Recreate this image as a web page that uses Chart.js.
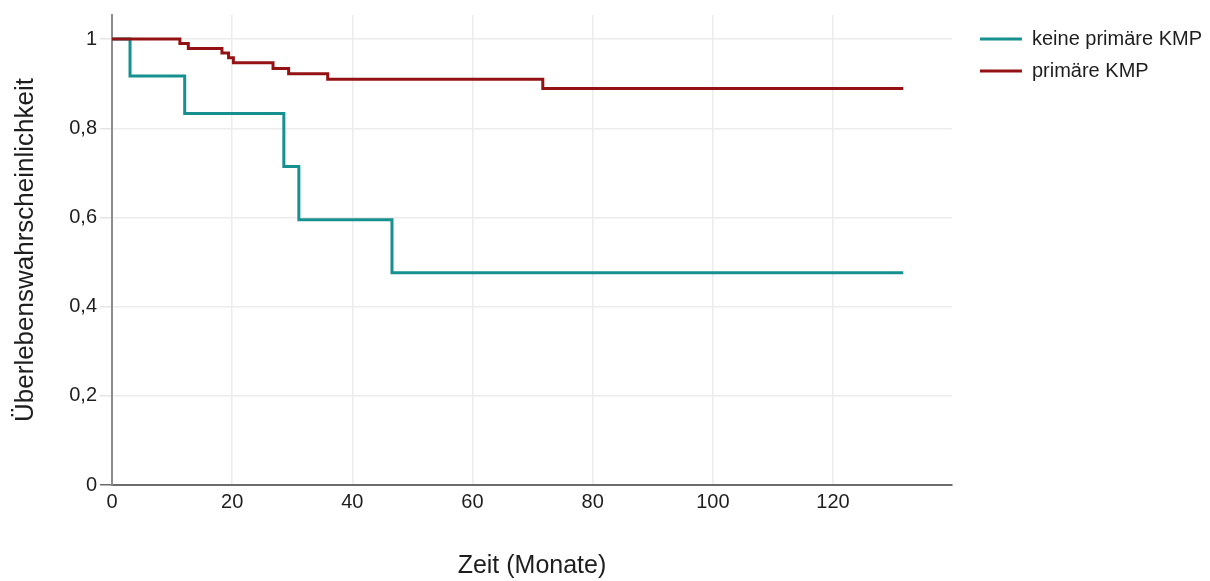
<!DOCTYPE html>
<html>
<head>
<meta charset="utf-8">
<title>Überlebenswahrscheinlichkeit</title>
<script src="https://cdn.jsdelivr.net/npm/chart.js@4"></script>
<style>
  html, body { margin: 0; padding: 0; background: #ffffff; }
  #wrap { position: relative; width: 1210px; height: 581px; }
</style>
</head>
<body>
<div id="wrap"><canvas id="km"></canvas></div>
<script>
// Kaplan-Meier estimates: event times (months) and survival after each step
const keineTimes  = [0, 3.0, 12.1, 28.6, 31.1, 46.6, 131.7];
const keineSurv   = [1, 0.917, 0.833, 0.714, 0.595, 0.476, 0.476];
const primTimes   = [0, 11.3, 12.7, 18.3, 19.4, 20.2, 26.8, 29.4, 35.9, 71.7, 131.7];
const primSurv    = [1, 0.990, 0.979, 0.969, 0.958, 0.947, 0.934, 0.922, 0.910, 0.889, 0.889];

const seriesNames = ['keine primäre KMP', 'primäre KMP'];
const xTickValues = [0, 20, 40, 60, 80, 100, 120];
const yTickValues = [0, 0.2, 0.4, 0.6, 0.8, 1];
const yTickLabels = ['0', '0,2', '0,4', '0,6', '0,8', '1'];

const toPoints = (ts, vs) => ts.map((t, i) => ({ x: t, y: vs[i] }));

const FONT = 'Liberation Sans, Arial, Helvetica, sans-serif';
const TEXT = '#1e1e1e';

// leaves a small gap between the plot area and the legend entries
const legendGap = {
  id: 'legendGap',
  afterLayout(chart) {
    const lg = chart.legend;
    if (lg) { lg.left += 16; lg.right += 16; lg.top += 2; lg.bottom += 2; }
  }
};

new Chart(document.getElementById('km'), {
  type: 'line',
  data: {
    datasets: [
      {
        label: seriesNames[0],
        data: toPoints(keineTimes, keineSurv),
        borderColor: '#16918f',
        backgroundColor: '#16918f',
        borderWidth: 3,
        stepped: 'before',
        pointRadius: 0,
        fill: false,
        order: 1
      },
      {
        label: seriesNames[1],
        data: toPoints(primTimes, primSurv),
        borderColor: '#951214',
        backgroundColor: '#951214',
        borderWidth: 3,
        stepped: 'before',
        pointRadius: 0,
        fill: false,
        order: 0
      }
    ]
  },
  plugins: [legendGap],
  options: {
    responsive: true,
    maintainAspectRatio: false,
    animation: false,
    layout: { padding: { top: 15, right: 14, bottom: 0, left: 0 } },
    plugins: {
      tooltip: { enabled: false },
      legend: {
        position: 'right',
        align: 'start',
        labels: {
          boxWidth: 42,
          boxHeight: 3,
          padding: 12,
          color: TEXT,
          font: { family: FONT, size: 20 },
          sort: (a, b) => a.datasetIndex - b.datasetIndex,
          generateLabels: (chart) =>
            Chart.defaults.plugins.legend.labels.generateLabels(chart)
              .map(item => Object.assign(item, { lineWidth: 0 }))
        }
      }
    },
    scales: {
      x: {
        type: 'linear',
        min: 0,
        max: 139.8,
        afterBuildTicks: (s) => { s.ticks = xTickValues.map(v => ({ value: v })); },
        afterFit: (s) => { s.height = 96; },
        ticks: {
          padding: 5,
          color: TEXT,
          font: { family: FONT, size: 20 }
        },
        grid: {
          color: '#ececec',
          lineWidth: 1.5,
          drawTicks: false
        },
        border: { color: '#6b6b6b', width: 2 },
        title: {
          display: true,
          text: 'Zeit (Monate)',
          color: TEXT,
          font: { family: FONT, size: 25 },
          padding: { top: 4, bottom: 0 }
        }
      },
      y: {
        type: 'linear',
        min: 0,
        max: 1.054,
        afterBuildTicks: (s) => { s.ticks = yTickValues.map(v => ({ value: v })); },
        afterFit: (s) => { s.width = 112; },
        ticks: {
          padding: 3,
          color: TEXT,
          font: { family: FONT, size: 20 },
          callback: (v) => {
            const i = yTickValues.findIndex(t => Math.abs(t - v) < 1e-9);
            return i >= 0 ? yTickLabels[i] : '';
          }
        },
        grid: {
          color: (c) => (c.tick && c.tick.value === 0 ? '#6b6b6b' : '#ececec'),
          tickColor: (c) => (c.tick && c.tick.value === 0 ? '#6b6b6b' : '#e4e4e4'),
          lineWidth: 1.5,
          tickLength: 12
        },
        border: { color: '#8c8c8c', width: 2 },
        title: {
          display: true,
          text: 'Überlebenswahrscheinlichkeit',
          color: TEXT,
          font: { family: FONT, size: 26 },
          padding: { top: 10, bottom: 4 }
        }
      }
    }
  }
});
</script>
</body>
</html>
